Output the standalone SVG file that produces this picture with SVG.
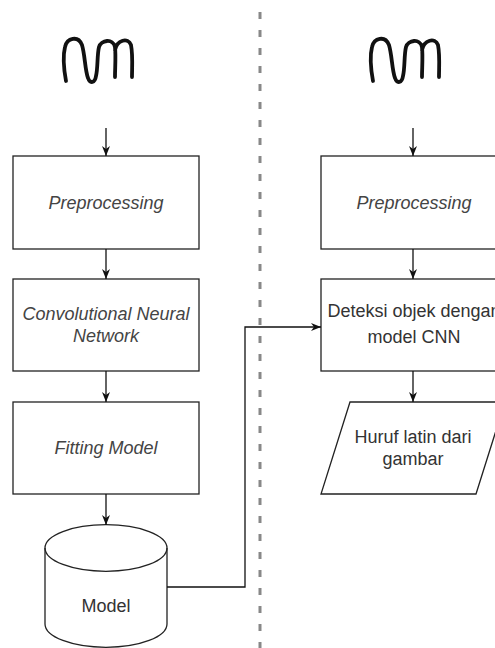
<svg xmlns="http://www.w3.org/2000/svg" width="495" height="648" viewBox="0 0 495 648">
  <style>
    .box { fill: #fff; stroke: #222; stroke-width: 1.3; }
    .edge { fill: none; stroke: #111; stroke-width: 1.3; }
    .t { font-family: "Liberation Sans", Arial, sans-serif; font-size: 18px; fill: #333; text-anchor: middle; }
    .it { font-style: italic; fill: #444; }
    .sq { fill: none; stroke: #111; stroke-width: 3.8; stroke-linecap: round; stroke-linejoin: round; }
  </style>
  <defs>
    <marker id="arr" viewBox="0 0 10 8" refX="10" refY="4" markerWidth="10" markerHeight="8" markerUnits="userSpaceOnUse" orient="auto">
      <path d="M0,0 L10,4 L0,8 L3,4 Z" fill="#111"/>
    </marker>
    <path id="squiggle" d="M66,81 C64,70 63,55 65,47 C67,38 78,35 82,45 C85,55 85,70 88,78 C90,84 95,83 96,76 C98,68 97,55 99,47 C101,40 113,38 115,47 C116,56 115,68 115,77 M115,50 C117,40 128,37 131,45 C133,55 132,68 132,77"/>
  </defs>
  <rect width="495" height="648" fill="#fff"/>

  <!-- divider -->
  <line x1="260" y1="12" x2="260" y2="648" stroke="#888" stroke-width="3" stroke-dasharray="7 11"/>

  <!-- left column -->
  <g id="input-left">
    <use href="#squiggle" class="sq"/>
  </g>
  <g id="pre-left">
    <rect class="box" x="13" y="156" width="186" height="93"/>
    <text class="t it" x="106" y="209">Preprocessing</text>
  </g>
  <g id="cnn">
    <rect class="box" x="13" y="279" width="186" height="92"/>
    <text class="t it" x="106" y="320">Convolutional Neural</text>
    <text class="t it" x="106" y="342">Network</text>
  </g>
  <g id="fitting">
    <rect class="box" x="13" y="402" width="186" height="92"/>
    <text class="t it" x="106" y="454">Fitting Model</text>
  </g>
  <g id="model">
    <path class="box" d="M45,548 A61,23.3 0 0 1 167,548 V624 A61,23.3 0 0 1 45,624 Z"/>
    <path class="box" style="fill:none" d="M45,548 A61,23.3 0 0 0 167,548"/>
    <text class="t" x="106" y="612">Model</text>
  </g>

  <!-- right column -->
  <g id="input-right" transform="translate(307,0)">
    <use href="#squiggle" class="sq"/>
  </g>
  <g id="pre-right">
    <rect class="box" x="321" y="156" width="186" height="93"/>
    <text class="t it" x="414" y="209">Preprocessing</text>
  </g>
  <g id="detect">
    <rect class="box" x="321" y="279" width="186" height="92"/>
    <text class="t" x="414" y="317">Deteksi objek dengan</text>
    <text class="t" x="414" y="343">model CNN</text>
  </g>
  <g id="output">
    <polygon class="box" points="350,402 505,402 476,494 321,494"/>
    <text class="t" x="413" y="443">Huruf latin dari</text>
    <text class="t" x="413" y="465">gambar</text>
  </g>

  <!-- connectors -->
  <g id="connectors">
    <line class="edge" x1="106" y1="128" x2="106" y2="156" marker-end="url(#arr)"/>
    <line class="edge" x1="106" y1="249" x2="106" y2="279" marker-end="url(#arr)"/>
    <line class="edge" x1="106" y1="371" x2="106" y2="402" marker-end="url(#arr)"/>
    <line class="edge" x1="106" y1="494" x2="106" y2="525" marker-end="url(#arr)"/>
    <line class="edge" x1="413" y1="128" x2="413" y2="156" marker-end="url(#arr)"/>
    <line class="edge" x1="413" y1="249" x2="413" y2="279" marker-end="url(#arr)"/>
    <line class="edge" x1="413" y1="371" x2="413" y2="402" marker-end="url(#arr)"/>
    <path class="edge" d="M167,587 H245 V327 H321" marker-end="url(#arr)"/>
  </g>
</svg>
